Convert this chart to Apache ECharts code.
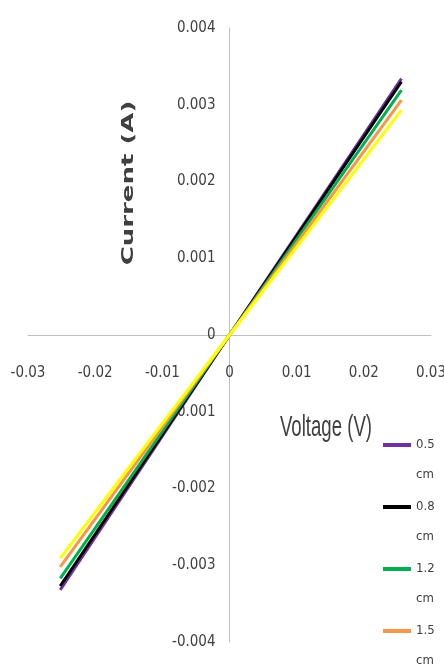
<!DOCTYPE html>
<html>
<head>
<meta charset="utf-8">
<script src="https://cdn.jsdelivr.net/npm/echarts@6/dist/echarts.min.js"></script>
<style>
  html, body { margin: 0; padding: 0; background: #fff; }
  #chart { width: 444px; height: 668px; }
</style>
</head>
<body>
<div id="chart"></div>
<script>
// I-V sweep: voltage (V) against current (A) for each electrode spacing
const voltage = [-0.0252, 0, 0.0256];
const current05 = [-0.00332, 0, 0.00334];
const current08 = [-0.00327, 0, 0.00330];
const current12 = [-0.00317, 0, 0.00319];
const current15 = [-0.00302, 0, 0.00306];
const current20 = [-0.00291, 0, 0.00293];

const seriesNames = ['0.5 cm', '0.8 cm', '1.2 cm', '1.5 cm', '2.0 cm'];
const seriesValues = [current05, current08, current12, current15, current20];
const seriesColors = ['#7030A0', '#000000', '#00B050', '#F79646', '#FFFF00'];
const legendNames = ['0.5 cm', '0.8 cm', '1.2 cm', '1.5 cm'];

const xTicks = { min: -0.03, max: 0.03, step: 0.01 };
const yTicks = { min: -0.004, max: 0.004, step: 0.001 };

const narrow = "'DejaVu Sans Condensed', 'Liberation Sans Narrow', sans-serif";
const textColor = '#404040';
const axisColor = '#bfbfbf';

// plot area; the two axes cross at the origin, in the middle of it
const grid = { left: 28, right: 13, top: 28, bottom: 26 };
const W = 444, H = 668;
const plotW = W - grid.left - grid.right;
const plotH = H - grid.top - grid.bottom;
const zeroFromLeft = plotW * (0 - xTicks.min) / (xTicks.max - xTicks.min);
const zeroFromBottom = plotH * (0 - yTicks.min) / (yTicks.max - yTicks.min);

const chart = echarts.init(document.getElementById('chart'));

chart.setOption({
  animation: false,
  backgroundColor: '#ffffff',
  grid: Object.assign({ containLabel: false, outerBoundsMode: 'none' }, grid),
  xAxis: {
    type: 'value',
    position: 'bottom',
    offset: -zeroFromBottom,
    min: xTicks.min, max: xTicks.max, interval: xTicks.step,
    axisLine: { show: true, onZero: false, lineStyle: { color: axisColor, width: 1 } },
    axisTick: { show: false },
    splitLine: { show: false },
    axisLabel: { margin: 31, fontSize: 15, fontFamily: narrow, color: textColor }
  },
  yAxis: {
    type: 'value',
    position: 'left',
    offset: -zeroFromLeft,
    min: yTicks.min, max: yTicks.max, interval: yTicks.step,
    axisLine: { show: true, onZero: false, lineStyle: { color: axisColor, width: 1 } },
    axisTick: { show: false },
    splitLine: { show: false },
    axisLabel: { margin: 14, fontSize: 15, fontFamily: narrow, color: textColor }
  },
  legend: {
    data: legendNames,
    orient: 'vertical',
    left: 383, top: 400, height: 400,
    padding: 0,
    icon: 'rect',
    itemWidth: 28, itemHeight: 4,
    itemGap: -28,
    // name wraps onto two lines; a blank first line keeps the number level with the swatch
    formatter: function (n) { return '\n' + n.replace(' ', '\n'); },
    textStyle: {
      fontSize: 13, fontFamily: narrow, color: textColor, lineHeight: 30
    }
  },
  graphic: [
    {
      type: 'text', x: 129, y: 183, rotation: Math.PI / 2, scaleX: 1.3, scaleY: 0.8,
      style: {
        text: 'Current (A)', fontSize: 20, fontWeight: 'bold', fontFamily: "'DejaVu Sans', sans-serif",
        fill: textColor, align: 'center', verticalAlign: 'middle'
      }
    },
    {
      type: 'text', x: 326, y: 428, scaleX: 0.62,
      style: {
        text: 'Voltage (V)', fontSize: 30, fontFamily: "'Liberation Sans', sans-serif",
        fill: textColor, align: 'center', verticalAlign: 'middle'
      }
    }
  ],
  series: seriesNames.map(function (name, i) {
    return {
      name: name,
      type: 'line',
      symbol: 'none',
      color: seriesColors[i],
      lineStyle: { width: 3, color: seriesColors[i] },
      data: voltage.map(function (v, k) { return [v, seriesValues[i][k]]; })
    };
  })
});
</script>
</body>
</html>
